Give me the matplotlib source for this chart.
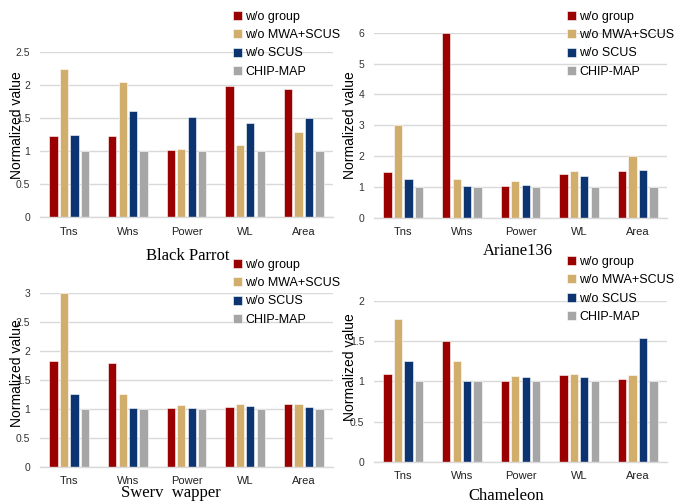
import numpy as np
import matplotlib
matplotlib.use('Agg')
import matplotlib.pyplot as plt

plt.rcParams['font.family'] = ['Liberation Sans', 'DejaVu Sans']

categories = ['Tns', 'Wns', 'Power', 'WL', 'Area']
series = ['w/o group', 'w/o MWA+SCUS', 'w/o SCUS', 'CHIP-MAP']
colors = ['#9A0000', '#D2AE6D', '#0B3470', '#A6A6A6']

# values per panel: rows = series, columns = categories
black_parrot = [
    [1.23, 1.22, 1.02, 1.99, 1.94],
    [2.25, 2.05, 1.03, 1.09, 1.29],
    [1.25, 1.61, 1.51, 1.42, 1.50],
    [1.00, 1.00, 1.00, 1.00, 1.00],
]
ariane136 = [
    [1.49, 6.00, 1.02, 1.42, 1.52],
    [3.00, 1.25, 1.18, 1.50, 2.00],
    [1.25, 1.02, 1.05, 1.36, 1.55],
    [1.00, 1.00, 1.00, 1.00, 1.00],
]
swerv = [
    [1.83, 1.80, 1.02, 1.04, 1.09],
    [3.00, 1.25, 1.07, 1.09, 1.09],
    [1.25, 1.01, 1.01, 1.05, 1.04],
    [1.00, 1.00, 1.00, 1.00, 1.00],
]
chameleon = [
    [1.09, 1.50, 1.01, 1.08, 1.03],
    [1.78, 1.25, 1.07, 1.09, 1.08],
    [1.25, 1.01, 1.05, 1.05, 1.54],
    [1.00, 1.00, 1.00, 1.00, 1.00],
]

W, H = 675, 501
fig = plt.figure(figsize=(W / 100, H / 100), dpi=100)


def px_axes(x0, x1, ytop, ybot):
    return fig.add_axes([x0 / W, 1 - ybot / H, (x1 - x0) / W, (ybot - ytop) / H])


panels = [
    # data, title, axes box in px, ymax, ystep, tick labels, title pos, legend top, ylabel pos
    (black_parrot, 'Black Parrot', (40, 333, 52, 217), 2.5, 0.5,
     ['0', '0.5', '1', '1.5', '2', '2.5'], (188, 256), 11, (17, 125)),
    (ariane136, 'Ariane136', (374, 667, 32.7, 217.7), 6, 1,
     ['0', '1', '2', '3', '4', '5', '6'], (518, 251), 11, (350, 125)),
    (swerv, 'Swerv  wapper', (40, 333, 293.3, 466.7), 3, 0.5,
     ['0', '0.5', '1', '1.5', '2', '2.5', '3'], (171, 493), 259, (17, 373)),
    (chameleon, 'Chameleon', (374, 667, 301, 461.7), 2, 0.5,
     ['0', '0.5', '1', '1.5', '2'], (506, 496), 256, (350, 367)),
]

x = np.arange(len(categories))
bw = 0.142
step = 0.178

for data, title, box, ymax, ystep, ylabels, tpos, legtop, ylpos in panels:
    ax = px_axes(*box)
    for i, (name, vals) in enumerate(zip(series, data)):
        ax.bar(x + (i - 1.5) * step, vals, width=bw, color=colors[i],
               edgecolor='white', linewidth=0.4, zorder=3, label=name)
    ax.set_xlim(-0.5, 4.5)
    ax.set_ylim(0, ymax)
    ax.set_yticks(np.arange(0, ymax + 1e-9, ystep))
    ax.set_yticklabels(ylabels, fontsize=7.5, color='#333333')
    ax.set_xticks(x)
    ax.set_xticklabels(categories, fontsize=8, color='#222222')
    ax.tick_params(length=0, pad=7)
    ax.tick_params(axis='y', pad=7)
    ax.grid(axis='y', color='#D9D9D9', linewidth=1, zorder=0)
    for s in ['left', 'right', 'top']:
        ax.spines[s].set_visible(False)
    ax.spines['bottom'].set_color('#D9D9D9')
    ax.spines['bottom'].set_linewidth(1)
    ax.spines['bottom'].set_zorder(4)
    fig.text(ylpos[0] / W, 1 - ylpos[1] / H, 'Normalized value', rotation=90,
             ha='center', va='center', fontsize=10)
    fig.text(tpos[0] / W, 1 - tpos[1] / H, title, ha='center', va='center',
             fontsize=12, family='Liberation Serif')
    leg = ax.legend(loc='upper left',
                    bbox_to_anchor=((box[0] + 193) / W, 1 - legtop / H),
                    bbox_transform=fig.transFigure, frameon=False,
                    fontsize=9, handlelength=0.75, handleheight=0.75,
                    handletextpad=0.25, labelspacing=0.5, borderpad=0,
                    borderaxespad=0)
    leg.set_zorder(10)

fig.savefig('out.png', dpi=100)
